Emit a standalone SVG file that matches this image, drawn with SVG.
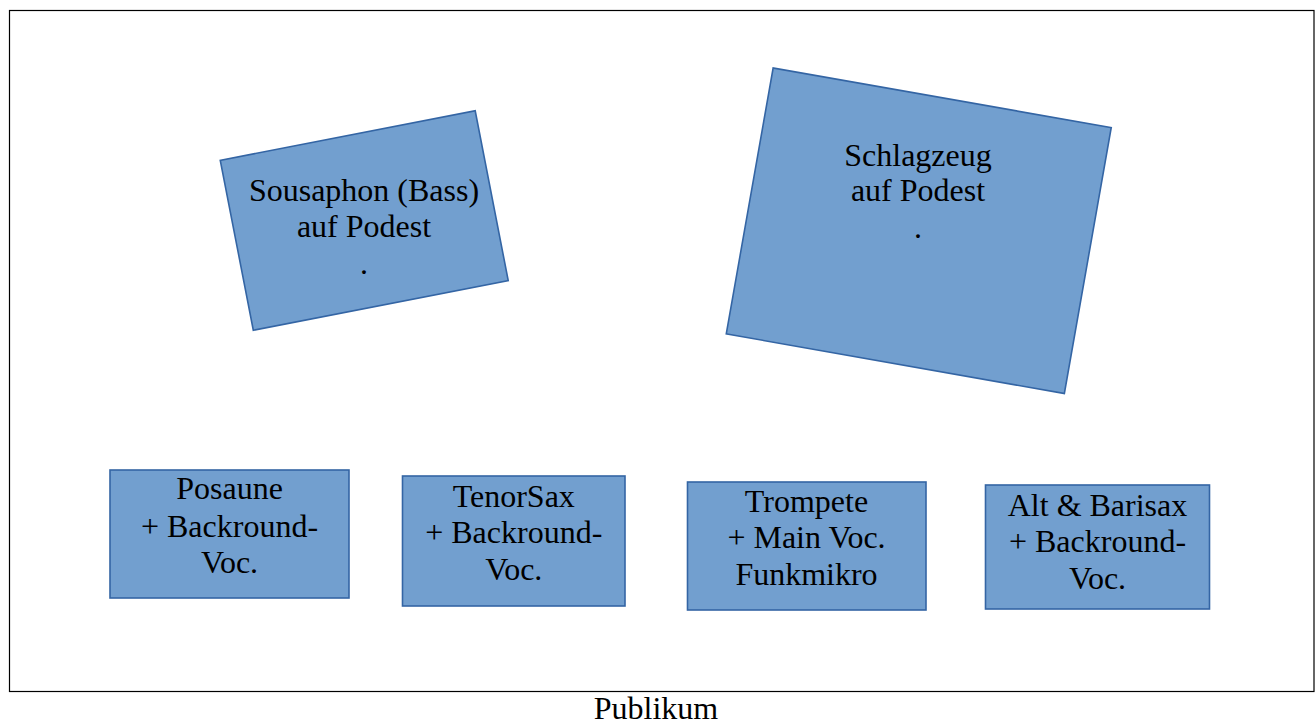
<svg xmlns="http://www.w3.org/2000/svg" width="1316" height="724" viewBox="0 0 1316 724">
<style>
.box{fill:#729FCF;stroke:#3465A4;stroke-width:1.6}
.t{font-family:"Liberation Serif","Times New Roman",serif;font-size:32px;fill:#000;text-anchor:middle}
</style>
<rect x="0" y="0" width="1316" height="724" fill="#ffffff"/>
<rect id="frame" x="9.5" y="10.5" width="1304.5" height="681" fill="none" stroke="#000" stroke-width="1.2"/>
<g id="connectors"></g>
<g id="sousaphon">
<rect class="box" x="-129.85" y="-86.6" width="259.7" height="173.2" transform="translate(364.25,220.5) rotate(-11)"/>
<text class="t" x="364" y="201">Sousaphon (Bass)</text>
<text class="t" x="364" y="237">auf Podest</text>
<text class="t" x="364" y="274">.</text>
</g>
<g id="schlagzeug">
<rect class="box" x="-171.65" y="-135" width="343.3" height="270" transform="translate(918.75,230.75) rotate(10)"/>
<text class="t" x="918" y="166">Schlagzeug</text>
<text class="t" x="918" y="201">auf Podest</text>
<text class="t" x="918" y="238">.</text>
</g>
<g id="posaune">
<rect class="box" x="110" y="470" width="239" height="128"/>
<text class="t" x="229.5" y="499">Posaune</text>
<text class="t" x="229.5" y="537">+ Backround-</text>
<text class="t" x="229.5" y="573">Voc.</text>
</g>
<g id="tenorsax">
<rect class="box" x="402.5" y="476" width="222.5" height="130"/>
<text class="t" x="513.75" y="507">TenorSax</text>
<text class="t" x="513.75" y="543">+ Backround-</text>
<text class="t" x="513.75" y="580">Voc.</text>
</g>
<g id="trompete">
<rect class="box" x="687.5" y="482" width="238.5" height="128"/>
<text class="t" x="806.5" y="512">Trompete</text>
<text class="t" x="806.5" y="548">+ Main Voc.</text>
<text class="t" x="806.5" y="585">Funkmikro</text>
</g>
<g id="altbarisax">
<rect class="box" x="985.5" y="485" width="224" height="124"/>
<text class="t" x="1097.5" y="516">Alt &amp; Barisax</text>
<text class="t" x="1097.5" y="552">+ Backround-</text>
<text class="t" x="1097.5" y="589">Voc.</text>
</g>
<g id="publikum">
<text class="t" x="656" y="719">Publikum</text>
</g>
</svg>
